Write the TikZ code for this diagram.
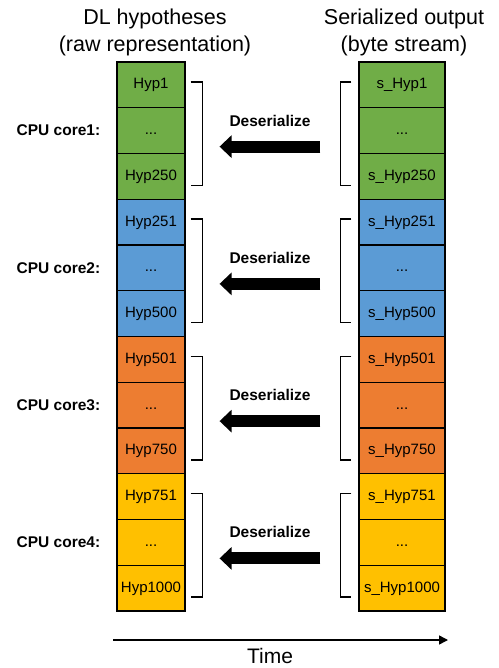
\documentclass[tikz,border=0pt]{standalone}
\usepackage{fontspec}
\setmainfont{Liberation Sans}
\usetikzlibrary{arrows.meta,positioning,calc}
\definecolor{hypgreen}{HTML}{70AD47}
\definecolor{hypblue}{HTML}{5B9BD5}
\definecolor{hyporange}{HTML}{ED7D31}
\definecolor{hypyellow}{HTML}{FFC000}

\begin{document}
\begin{tikzpicture}[x=1pt,y=-1pt] % one unit is one pixel of the reference, y grows downwards
\tikzset{cell/.style={draw, line width=1.1pt, minimum height=45.75pt, inner sep=0pt, text height=11pt, text depth=3pt, font=\fontsize{15}{18}\selectfont}} % one hypothesis box
\tikzset{rawcell/.style={cell, minimum width=68pt}, sercell/.style={cell, minimum width=86pt}} % the two columns
\tikzset{lbl/.style={font=\fontsize{15.5}{18}\selectfont\bfseries, inner sep=0pt}} % bold side labels
\tikzset{title/.style={align=center, font=\fontsize{21.5}{27}\selectfont, inner sep=0pt}} % column headings
\tikzset{brk/.style={line width=1.6pt}, bigarrow/.style={line width=12pt, -{Triangle[width=22pt,length=12pt]}}}
\useasboundingbox (0,0) rectangle (498,668);

\node[title] (rawt) at (155,32) {DL hypotheses\\(raw representation)};
\node[title] (sert) at (404,32) {Serialized output\\(byte stream)};

\foreach \g/\col/\a/\b in {0/hypgreen/1/250, 1/hypblue/251/500, 2/hyporange/501/750, 3/hypyellow/751/1000}{
  \pgfmathsetmacro\yc{130.625+137.25*\g} % middle of the group
  \pgfmathtruncatemacro\n{\g+1}
  % raw representation
  \node[rawcell, fill=\col] (L\g-1) at (151,\yc-45.75) {Hyp\a};
  \node[rawcell, fill=\col] (L\g-2) at (151,\yc) {...};
  \node[rawcell, fill=\col] (L\g-3) at (151,\yc+45.75) {Hyp\b};
  % byte stream
  \node[sercell, fill=\col] (R\g-1) at (402,\yc-45.75) {s\_Hyp\a};
  \node[sercell, fill=\col] (R\g-2) at (402,\yc) {...};
  \node[sercell, fill=\col] (R\g-3) at (402,\yc+45.75) {s\_Hyp\b};
  % brackets
  \draw[brk] ([xshift=5pt,yshift=3pt]L\g-1.east) -- ++(12,0) |- ([xshift=5pt,yshift=-9pt]L\g-3.east);
  \draw[brk] ([xshift=-7pt,yshift=3pt]R\g-1.west) -- ++(-11,0) |- ([xshift=-7pt,yshift=-9pt]R\g-3.west);
  % deserialize arrow
  \coordinate (s\g) at ([xshift=-38pt,yshift=-16pt]R\g-2.west);
  \coordinate (t\g) at ([xshift=34pt,yshift=-16pt]L\g-2.east);
  \draw[bigarrow] (s\g) -- (t\g);
  \node[lbl] (d\g) at ($(s\g)!0.5!(t\g)+(0,-26)$) {Deserialize};
  \node[lbl, anchor=east] (c\g) at ([xshift=-16pt]L\g-2.west) {CPU core\n:};
}

% time axis
\coordinate (t0) at (113,640);
\coordinate (t1) at (448,640);
\draw[line width=1.5pt, -{Triangle[width=9pt,length=9pt]}] (t0) -- (t1);
\node[anchor=base, font=\fontsize{21}{24}\selectfont, inner sep=0pt] (time) at (270,663) {Time};
\end{tikzpicture}
\end{document}
